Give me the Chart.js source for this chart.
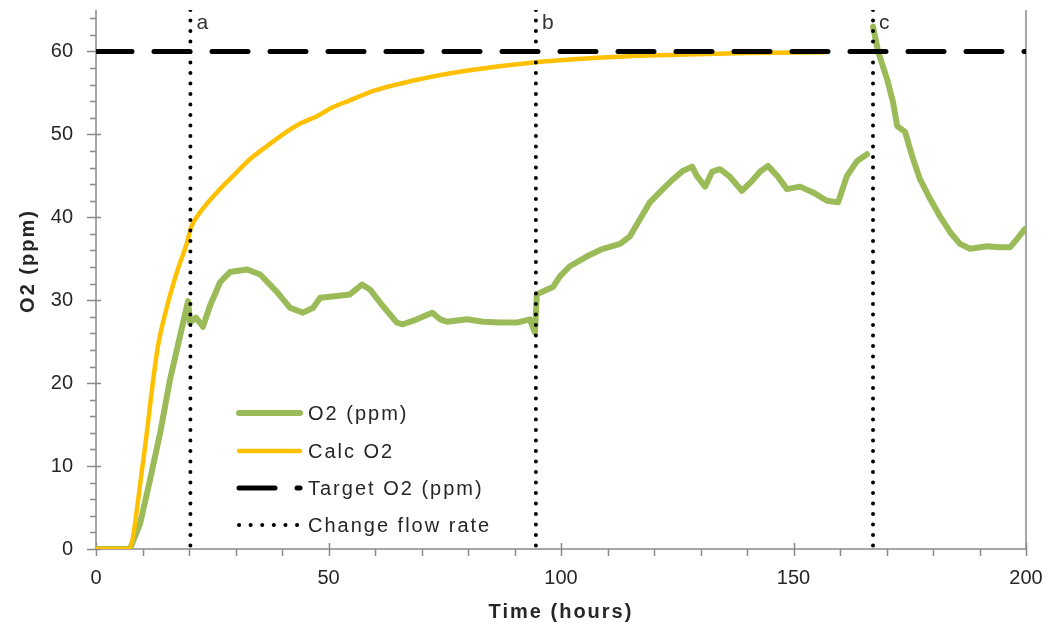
<!DOCTYPE html>
<html>
<head>
<meta charset="utf-8">
<script src="https://cdn.jsdelivr.net/npm/chart.js@4"></script>
<style>
  body { margin: 0; background: #fff; }
  canvas { display: block; }
</style>
</head>
<body>
<canvas id="o2-chart" width="1048" height="627"></canvas>
<script>
// measured O2 (ppm), hours / values, null = gap in logging
const o2Hours = [0, 7.3, 9.5, 11.6, 13.8, 15.9, 18, 19.8, 20.2, 21.5, 23, 24.5, 26.7, 28.8, 32.5, 35.3, 38.9, 41.7, 44.5, 46.7,
  48.2, 51.8, 54.6, 57.2, 58.9, 61.7, 64.7, 66, 69, 72.3, 74, 75.5, 79.8, 83.2, 86.9, 90.5, 93.3, 94.4, 94.8, 97,
  98.3, 99.8, 101.9, 105.6, 109, 112.7, 114.8, 117, 119.1, 121.9, 124.1, 126.2, 128.2, 129.2, 131, 132.5, 134.2, 136.3, 138.9, 141.1,
  142.8, 144.5, 146.5, 148.6, 151.4, 154.2, 157.2, 159.6, 161.5, 163.7, 165.8, 166.5, 167.1, 168.2, 170.1, 171.4, 172.3, 174, 175.5, 177.2,
  179.4, 181.5, 183.7, 185.8, 188, 191.6, 194.4, 196.6, 198.1, 199.8];
const o2Values = [0, 0, 3.1, 8.3, 14, 20.4, 25.5, 29.9, 27.3, 27.9, 26.8, 29.3, 32.2, 33.4, 33.7, 33.1, 31, 29.1, 28.5, 29.1,
  30.3, 30.5, 30.7, 31.9, 31.3, 29.3, 27.3, 27.1, 27.7, 28.5, 27.7, 27.4, 27.7, 27.4, 27.3, 27.3, 27.7, 26.1, 30.7, 31.3,
  31.6, 32.9, 34.1, 35.3, 36.2, 36.8, 37.7, 39.8, 41.8, 43.4, 44.6, 45.6, 46.1, 45, 43.7, 45.5, 45.8, 44.9, 43.2, 44.4,
  45.5, 46.2, 45, 43.4, 43.7, 43, 42, 41.8, 45, 46.8, 47.6, null, 63, 60, 56.7, 53.9, 51, 50.3, 47.4, 44.6,
  42.2, 40.1, 38.2, 36.8, 36.2, 36.5, 36.4, 36.4, 37.4, 38.6];

// calculated O2
const calcHours = [0, 7, 10.1, 12.3, 13.3, 15.3, 17.4, 19.8, 20.3, 22.4, 26, 29.5, 33.1, 36.8, 40.2, 43.9, 47.5, 51, 54.6, 60,
  70, 80, 94.6, 110, 125, 140, 157];
const calcValues = [0, 0, 10.4, 20.4, 24.4, 29.3, 33.4, 37.4, 38.6, 40.6, 43, 45, 47, 48.6, 50, 51.3, 52.2, 53.3, 54.1, 55.3,
  56.7, 57.7, 58.7, 59.3, 59.6, 59.8, 59.9];

// target
const targetHours = [0, 200];
const targetValues = [60, 60];

// flow rate changes
const changeHours = [20.3, 94.6, 167.1];
const changeLabels = ['a', 'b', 'c'];

const yMax = 65;

function toPoints(xs, ys) {
  return xs.map((x, i) => ({ x: x, y: ys[i] }));
}

const changePoints = [];
changeHours.forEach(h => {
  changePoints.push({ x: h, y: yMax }, { x: h, y: 0 }, { x: h, y: null });
});

const textColor = '#262626';
const axisColor = '#8a8a8a';

// axis lines, tick marks, titles
const axesPlugin = {
  id: 'axesPlugin',
  beforeDatasetsDraw(chart) {
    const { ctx, chartArea: a, scales: { x, y } } = chart;
    ctx.save();
    ctx.strokeStyle = axisColor;
    ctx.lineWidth = 1.5;
    ctx.beginPath();
    ctx.moveTo(a.left, a.top); ctx.lineTo(a.left, a.bottom); ctx.lineTo(a.right, a.bottom);
    ctx.moveTo(a.right, a.top); ctx.lineTo(a.right, a.bottom);
    for (let v = 0; v <= 64; v += 2) {
      const py = Math.round(y.getPixelForValue(v)) + 0.5;
      if (v % 10 === 0) { ctx.moveTo(a.left - 9, py); ctx.lineTo(a.left + 5, py); }
      else { ctx.moveTo(a.left - 6, py); ctx.lineTo(a.left, py); }
    }
    for (let v = 0; v <= 200; v += 10) {
      const px = Math.round(x.getPixelForValue(v)) + 0.5;
      if (v % 50 === 0) { ctx.moveTo(px, a.bottom - 6); ctx.lineTo(px, a.bottom + 7); }
      else { ctx.moveTo(px, a.bottom); ctx.lineTo(px, a.bottom + 7); }
    }
    ctx.stroke();
    ctx.restore();
  },
  afterDraw(chart) {
    const { ctx, chartArea: a, scales: { x } } = chart;
    ctx.save();
    ctx.fillStyle = textColor;
    ctx.letterSpacing = '2px';
    ctx.font = 'bold 20px "Liberation Sans", Arial, sans-serif';
    ctx.textAlign = 'center';
    ctx.textBaseline = 'middle';
    ctx.fillText('Time (hours)', (a.left + a.right) / 2, 612);
    ctx.translate(28, 261);
    ctx.rotate(-Math.PI / 2);
    ctx.fillText('O2 (ppm)', 0, 0);
    ctx.restore();

    // a / b / c
    ctx.save();
    ctx.fillStyle = '#333';
    ctx.font = '21px "Liberation Sans", Arial, sans-serif';
    ctx.textAlign = 'left';
    ctx.textBaseline = 'middle';
    changeHours.forEach((h, i) => {
      ctx.fillText(changeLabels[i], x.getPixelForValue(h) + 6, 23);
    });
    ctx.restore();

    // legend inside plot
    ctx.save();
    const rows = [413, 451, 488, 525];
    chart.data.datasets.forEach((ds, i) => {
      const ry = rows[i];
      ctx.beginPath();
      ctx.strokeStyle = ds.borderColor;
      ctx.lineWidth = ds.borderWidth;
      ctx.lineCap = ds.borderCapStyle || 'butt';
      ctx.setLineDash(ds.legendDash || ds.borderDash || []);
      ctx.moveTo(239, ry); ctx.lineTo(300, ry);
      ctx.stroke();
      ctx.setLineDash([]);
      ctx.fillStyle = textColor;
      ctx.letterSpacing = '2px';
      ctx.font = '20px "Liberation Sans", Arial, sans-serif';
      ctx.textAlign = 'left';
      ctx.textBaseline = 'middle';
      ctx.fillText(ds.label, 308, ry + 1);
    });
    ctx.restore();
  }
};

new Chart(document.getElementById('o2-chart'), {
  type: 'scatter',
  data: {
    datasets: [
      {
        label: 'O2 (ppm)',
        data: toPoints(o2Hours, o2Values),
        showLine: true, spanGaps: false,
        borderColor: '#9bbb59', borderWidth: 6,
        borderJoinStyle: 'round', borderCapStyle: 'round',
        pointRadius: 0, order: 3
      },
      {
        label: 'Calc O2',
        data: toPoints(calcHours, calcValues),
        showLine: true, cubicInterpolationMode: 'monotone',
        borderColor: '#ffc000', borderWidth: 4.5,
        borderCapStyle: 'round',
        pointRadius: 0, order: 2
      },
      {
        label: 'Target O2 (ppm)',
        data: toPoints(targetHours, targetValues),
        showLine: true,
        borderColor: '#000', borderWidth: 5,
        borderDash: [36, 22], borderCapStyle: 'round',
        pointRadius: 0, order: 1
      },
      {
        label: 'Change flow rate',
        data: changePoints,
        showLine: true, spanGaps: false,
        borderColor: '#000', borderWidth: 4,
        borderDash: [0.1, 10.4], legendDash: [0.1, 11.5], borderCapStyle: 'round',
        pointRadius: 0, order: 0
      }
    ]
  },
  options: {
    responsive: false,
    animation: false,
    layout: { padding: { top: 10, right: 22, left: 0, bottom: 0 } },
    plugins: {
      legend: { display: false },
      tooltip: { enabled: false }
    },
    scales: {
      x: {
        type: 'linear', min: 0, max: 200,
        grid: { display: false, drawTicks: false },
        border: { display: false },
        ticks: {
          stepSize: 50, padding: 17, maxRotation: 0, color: textColor,
          font: { family: '"Liberation Sans", Arial, sans-serif', size: 20 }
        },
        afterFit: s => { s.height = 78; s.paddingLeft = 0; s.paddingRight = 0; }
      },
      y: {
        type: 'linear', min: 0, max: yMax,
        grid: { display: false, drawTicks: false },
        border: { display: false },
        ticks: {
          stepSize: 10, padding: 23, color: textColor,
          font: { family: '"Liberation Sans", Arial, sans-serif', size: 20 }
        },
        afterBuildTicks: s => { s.ticks = s.ticks.filter(t => t.value % 10 === 0); },
        afterFit: s => { s.width = 96; s.paddingTop = 0; s.paddingBottom = 0; }
      }
    }
  },
  plugins: [axesPlugin]
});
</script>
</body>
</html>
